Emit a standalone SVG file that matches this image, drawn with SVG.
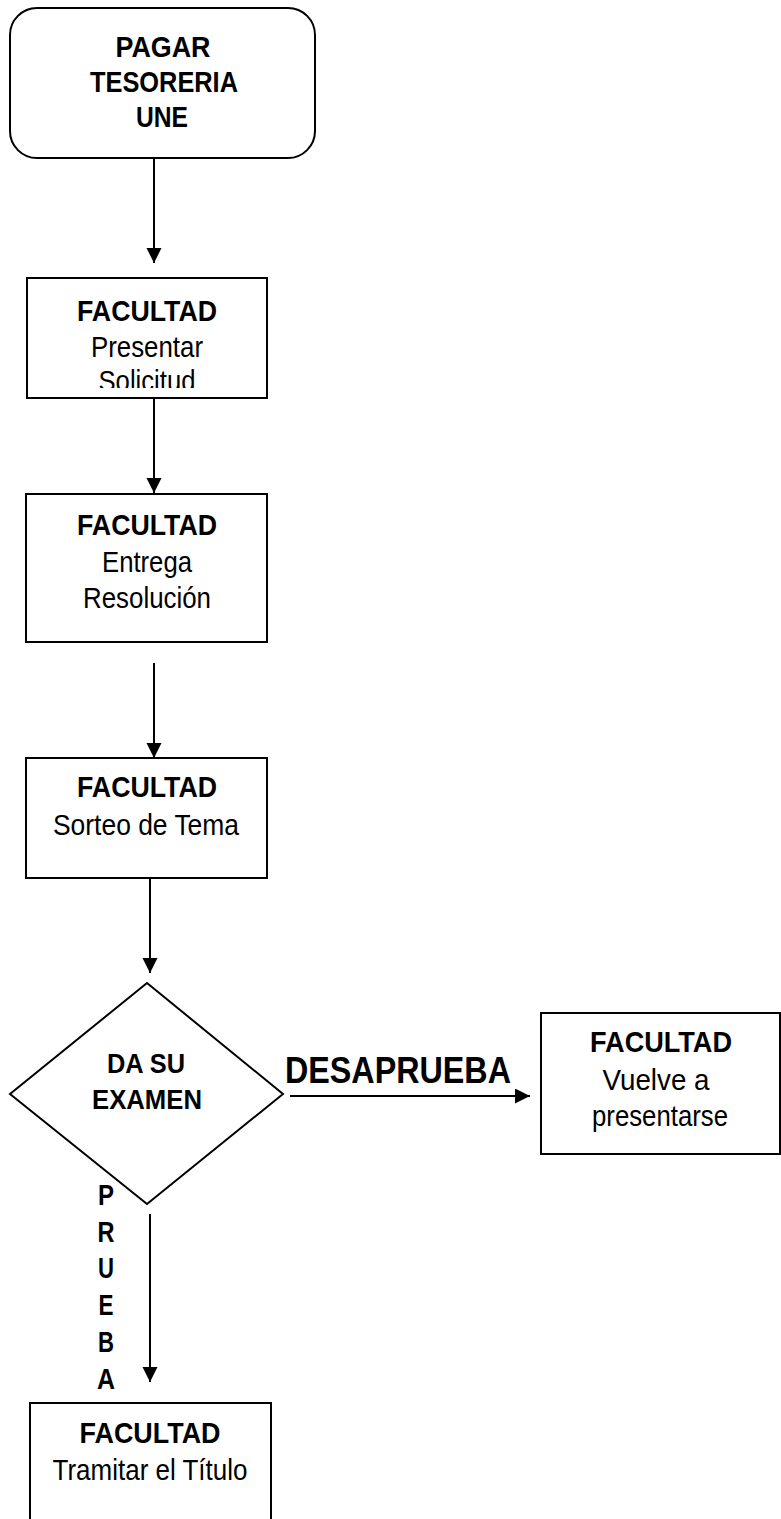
<svg xmlns="http://www.w3.org/2000/svg" width="781" height="1519" viewBox="0 0 781 1519">
<style>
.box{fill:#fff;stroke:#000;stroke-width:2}
.t{font-family:"Liberation Sans",Arial,sans-serif;font-size:30px;fill:#000;text-anchor:middle}
.b{font-weight:bold}
.line{stroke:#000;stroke-width:2;fill:none}
</style>
<defs>
<marker id="ah" markerUnits="userSpaceOnUse" markerWidth="16" markerHeight="16" refX="15" refY="7.5" orient="auto">
<path d="M0,0 L15,7.5 L0,15 z" fill="#000"/>
</marker>
<clipPath id="c1"><rect x="27" y="278" width="240" height="110"/></clipPath>
</defs>
<rect width="781" height="1519" fill="#fff"/>
<g id="connectors">
<line class="line" x1="154" y1="158" x2="154" y2="263" marker-end="url(#ah)"/>
<line class="line" x1="154" y1="398" x2="154" y2="493" marker-end="url(#ah)"/>
<line class="line" x1="154" y1="663" x2="154" y2="758" marker-end="url(#ah)"/>
<line class="line" x1="150" y1="878" x2="150" y2="973" marker-end="url(#ah)"/>
<line class="line" x1="290" y1="1096" x2="530" y2="1096" marker-end="url(#ah)"/>
<line class="line" x1="150" y1="1214" x2="150" y2="1382" marker-end="url(#ah)"/>
<text class="t b" x="398" y="1083" style="font-size:36px" textLength="226" lengthAdjust="spacingAndGlyphs">DESAPRUEBA</text>
<g id="label-aprueba">
<text class="t b" x="106" y="1205" textLength="16" lengthAdjust="spacingAndGlyphs">P</text>
<text class="t b" x="106" y="1242" textLength="17" lengthAdjust="spacingAndGlyphs">R</text>
<text class="t b" x="106" y="1278" textLength="16" lengthAdjust="spacingAndGlyphs">U</text>
<text class="t b" x="106" y="1315" textLength="15" lengthAdjust="spacingAndGlyphs">E</text>
<text class="t b" x="106" y="1352" textLength="16" lengthAdjust="spacingAndGlyphs">B</text>
<text class="t b" x="106" y="1389" textLength="18" lengthAdjust="spacingAndGlyphs">A</text>
</g>
</g>
<g id="n1">
<rect class="box" x="10" y="8" width="305" height="150" rx="27" ry="27"/>
<text class="t b" x="163" y="57" textLength="95" lengthAdjust="spacingAndGlyphs">PAGAR</text>
<text class="t b" x="164" y="92" textLength="148" lengthAdjust="spacingAndGlyphs">TESORERIA</text>
<text class="t b" x="162" y="127" textLength="52" lengthAdjust="spacingAndGlyphs">UNE</text>
</g>
<g id="n2">
<rect class="box" x="27" y="278" width="240" height="120"/>
<text class="t b" x="147" y="321" textLength="140" lengthAdjust="spacingAndGlyphs">FACULTAD</text>
<text class="t" x="147" y="357" textLength="112" lengthAdjust="spacingAndGlyphs">Presentar</text>
<text class="t" x="147" y="391" textLength="97" lengthAdjust="spacingAndGlyphs" clip-path="url(#c1)">Solicitud</text>
</g>
<g id="n3">
<rect class="box" x="26" y="494" width="241" height="148"/>
<text class="t b" x="147" y="535" textLength="140" lengthAdjust="spacingAndGlyphs">FACULTAD</text>
<text class="t" x="147" y="572" textLength="90" lengthAdjust="spacingAndGlyphs">Entrega</text>
<text class="t" x="147" y="608" textLength="128" lengthAdjust="spacingAndGlyphs">Resolución</text>
</g>
<g id="n4">
<rect class="box" x="26" y="758" width="241" height="120"/>
<text class="t b" x="147" y="797" textLength="140" lengthAdjust="spacingAndGlyphs">FACULTAD</text>
<text class="t" x="146" y="835" textLength="186" lengthAdjust="spacingAndGlyphs">Sorteo de Tema</text>
</g>
<g id="n5">
<polygon class="box" points="147,983 283,1094 147,1204 10,1094"/>
<text class="t b" x="146" y="1073" style="font-size:28px" textLength="78" lengthAdjust="spacingAndGlyphs">DA SU</text>
<text class="t b" x="147" y="1109" style="font-size:28px" textLength="110" lengthAdjust="spacingAndGlyphs">EXAMEN</text>
</g>
<g id="n6">
<rect class="box" x="541" y="1013" width="239" height="141"/>
<text class="t b" x="661" y="1052" textLength="142" lengthAdjust="spacingAndGlyphs">FACULTAD</text>
<text class="t" x="656" y="1090" textLength="107" lengthAdjust="spacingAndGlyphs">Vuelve a</text>
<text class="t" x="660" y="1126" textLength="136" lengthAdjust="spacingAndGlyphs">presentarse</text>
</g>
<g id="n7">
<rect class="box" x="30" y="1403" width="241" height="130"/>
<text class="t b" x="150" y="1443" textLength="141" lengthAdjust="spacingAndGlyphs">FACULTAD</text>
<text class="t" x="150" y="1480" textLength="195" lengthAdjust="spacingAndGlyphs">Tramitar el Título</text>
</g>
</svg>
